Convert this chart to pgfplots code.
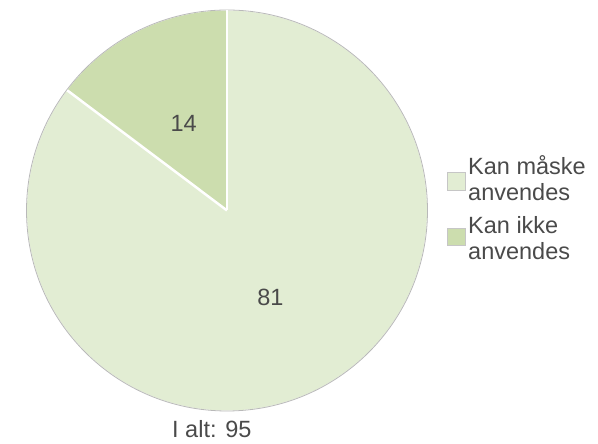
\documentclass[border=0pt]{standalone}
\usepackage{fontspec}
\setmainfont{Liberation Sans}
\usepackage{pgfplots}
\usepackage{pgfplotstable}
\pgfplotsset{compat=1.18}

\definecolor{sliceA}{HTML}{E2EDD3}
\definecolor{sliceB}{HTML}{CCDDAE}
\definecolor{txt}{HTML}{4A4A4A}

\pgfplotstableread[col sep=comma]{
label,value
Kan måske anvendes,81
Kan ikke anvendes,14
}\piedata

\begin{document}%
\pgfplotstablegetelem{0}{value}\of\piedata\edef\va{\pgfplotsretval}%
\pgfplotstablegetelem{1}{value}\of\piedata\edef\vb{\pgfplotsretval}%
\pgfmathtruncatemacro\tot{\va+\vb}%
% slices run clockwise from the top
\pgfmathsetmacro\aA{90-(\va/\tot)*360}%
\pgfmathsetmacro\aB{\aA-(\vb/\tot)*360}%
\pgfmathsetmacro\mA{(90+\aA)/2}%
\pgfmathsetmacro\mB{(\aA+\aB)/2}%
\fontsize{23.5}{26}\selectfont%
\begin{tikzpicture}
\begin{axis}[
    scale only axis,
    width=598pt, height=444pt,
    xmin=0, xmax=598, ymin=0, ymax=444,
    hide axis, clip=false,
]
\path (axis cs:0,0) rectangle (axis cs:598,444);
% slices
\fill[sliceA] (axis cs:227,233.5) -- ++(90:200pt) arc[start angle=90, end angle=\aA, radius=200pt] -- cycle;
\fill[sliceB] (axis cs:227,233.5) -- ++(\aA:200pt) arc[start angle=\aA, end angle=\aB, radius=200pt] -- cycle;
\draw[gray!55, line width=0.8pt] (axis cs:227,233.5) circle[radius=200.5pt];
\draw[white, line width=2.5pt] (axis cs:227,233.5) -- ++(90:200pt);
\draw[white, line width=2.5pt] (axis cs:227,233.5) -- ++(\aA:200pt);
% value labels
\path (axis cs:227,233.5) ++(\mA:97pt) node[txt] {\va};
\path (axis cs:227,233.5) ++(\mB:97pt) node[txt] {\vb};
% legend
\draw[gray!45, fill=sliceA] (axis cs:447,254) rectangle (axis cs:465,272);
\draw[gray!45, fill=sliceB] (axis cs:447,199) rectangle (axis cs:465,216);
\node[txt, anchor=base west, inner sep=0] at (axis cs:468,269) {Kan måske};
\node[txt, anchor=base west, inner sep=0] at (axis cs:468,243) {anvendes};
\node[txt, anchor=base west, inner sep=0] at (axis cs:468,210) {Kan ikke};
\node[txt, anchor=base west, inner sep=0] at (axis cs:468,184) {anvendes};
% total
\node[txt, anchor=base west, inner sep=0] at (axis cs:172,6) {I alt: \tot};
\end{axis}
\end{tikzpicture}%
\end{document}
